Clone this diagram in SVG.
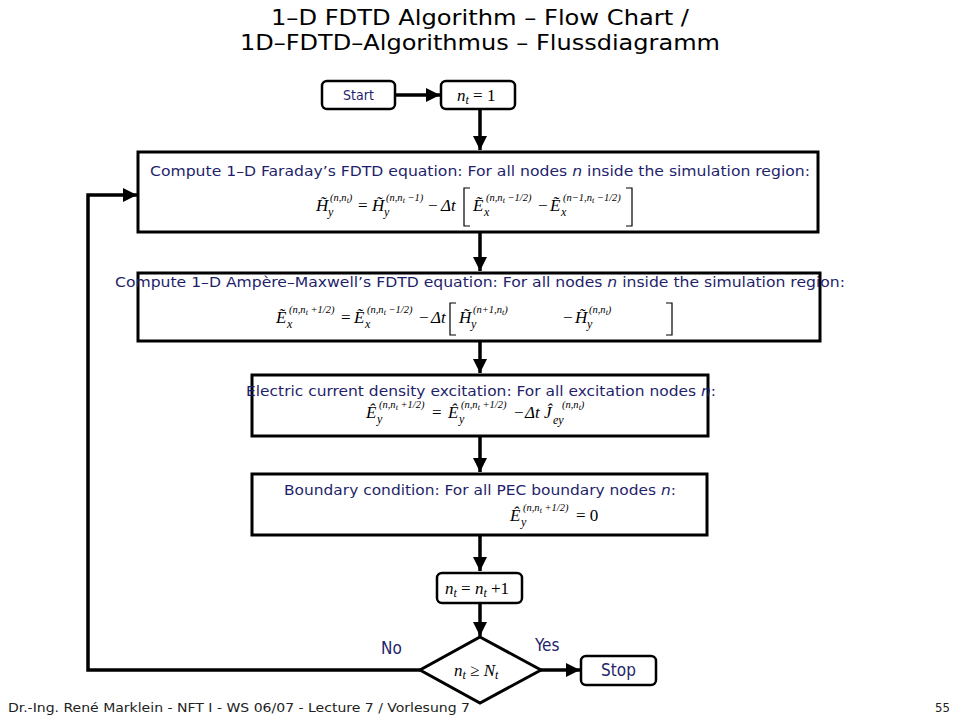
<svg xmlns="http://www.w3.org/2000/svg" width="960" height="720" viewBox="0 0 960 720">
<defs>
<marker id="ah" markerUnits="userSpaceOnUse" markerWidth="15" markerHeight="15" refX="14" refY="7" orient="auto">
<path d="M0,0 L14,7 L0,14 z" fill="#000"/>
</marker>
<style>
.title{font-family:"Liberation Sans Narrow","DejaVu Sans Condensed","Liberation Sans",sans-serif;font-size:22px;fill:#000;text-anchor:middle}
.lbl{font-family:"DejaVu Sans Condensed","DejaVu Sans",sans-serif;font-size:14px;fill:#1f1f6b}
.big{font-family:"DejaVu Sans Condensed","DejaVu Sans",sans-serif;font-size:17px;fill:#1f1f6b}
.foot{font-family:"DejaVu Sans Condensed","DejaVu Sans",sans-serif;font-size:13px;fill:#222}
.box{fill:#fff;stroke:#000;stroke-width:3}
.rbox{fill:#fff;stroke:#000;stroke-width:2.5}
.m{font-family:"Liberation Serif","DejaVu Serif",serif;font-style:italic;font-size:17px;fill:#000}
.mr{font-family:"Liberation Serif","DejaVu Serif",serif;font-size:17px;fill:#000}
.sp{font-family:"Liberation Serif","DejaVu Serif",serif;font-style:italic;font-size:10.5px;fill:#000}
.sb{font-family:"Liberation Serif","DejaVu Serif",serif;font-style:italic;font-size:12px;fill:#000}
.br{fill:none;stroke:#000;stroke-width:1.2}
.con{fill:none;stroke:#000;stroke-width:3.5}
</style>
</defs>

<g id="title">
<text class="title" x="480" y="25" textLength="418" lengthAdjust="spacingAndGlyphs">1–D FDTD Algorithm – Flow Chart /</text>
<text class="title" x="480" y="50" textLength="480" lengthAdjust="spacingAndGlyphs">1D–FDTD–Algorithmus – Flussdiagramm</text>
</g>

<g id="connectors">
<line class="con" x1="395" y1="95" x2="440" y2="95" marker-end="url(#ah)"/>
<line class="con" x1="480" y1="109" x2="480" y2="150" marker-end="url(#ah)"/>
<line class="con" x1="480" y1="233" x2="480" y2="271" marker-end="url(#ah)"/>
<line class="con" x1="480" y1="342" x2="480" y2="373" marker-end="url(#ah)"/>
<line class="con" x1="480" y1="437" x2="480" y2="472" marker-end="url(#ah)"/>
<line class="con" x1="480" y1="536" x2="480" y2="571" marker-end="url(#ah)"/>
<line class="con" x1="480" y1="604" x2="480" y2="636" marker-end="url(#ah)"/>
<line class="con" x1="541" y1="670" x2="580" y2="670" marker-end="url(#ah)"/>
<polyline class="con" points="420,670 88,670 88,195 137,195" marker-end="url(#ah)"/>
<text class="big" x="381" y="654">No</text>
<text class="big" x="535" y="651">Yes</text>
</g>

<g id="start">
<rect class="rbox" x="322" y="81" width="73" height="28" rx="5"/>
<text class="lbl" x="358.5" y="100" text-anchor="middle">Start</text>
</g>

<g id="init">
<rect class="rbox" x="441" y="81" width="74" height="28" rx="5"/>
<text class="m" x="457" y="101">n<tspan font-size="12" dy="3">t</tspan><tspan dy="-3" class="mr" font-style="normal"> = 1</tspan></text>
</g>

<g id="faraday">
<rect class="box" x="138" y="152" width="680" height="80"/>
<text class="lbl" x="480" y="176" text-anchor="middle" textLength="660" lengthAdjust="spacingAndGlyphs">Compute 1–D Faraday’s FDTD equation: For all nodes <tspan font-style="italic">n</tspan> inside the simulation region:</text>
<text class="m" x="316" y="211">H̃</text><text class="sb" x="328" y="216">y</text>
<text class="sp" x="330" y="201">(n,n<tspan font-size="8" dy="2">t</tspan><tspan dy="-2">)</tspan></text>
<text class="mr" x="358" y="211">=</text>
<text class="m" x="372" y="211">H̃</text><text class="sb" x="384" y="216">y</text>
<text class="sp" x="386" y="201">(n,n<tspan font-size="8" dy="2">t</tspan><tspan dy="-2"> −1)</tspan></text>
<text class="mr" x="428" y="211">−</text>
<text class="m" x="441" y="211">Δt</text>
<path class="br" d="M470,188 H464 V226 H470"/>
<text class="m" x="473" y="211">Ẽ</text><text class="sb" x="484" y="216">x</text>
<text class="sp" x="486" y="201">(n,n<tspan font-size="8" dy="2">t</tspan><tspan dy="-2"> −1/2)</tspan></text>
<text class="mr" x="538" y="211">−</text>
<text class="m" x="550" y="211">Ẽ</text><text class="sb" x="561" y="216">x</text>
<text class="sp" x="563" y="201">(n−1,n<tspan font-size="8" dy="2">t</tspan><tspan dy="-2"> −1/2)</tspan></text>
<path class="br" d="M626,188 H632 V226 H626"/>
</g>

<g id="ampere">
<rect class="box" x="138" y="273" width="682" height="68"/>
<text class="lbl" x="480" y="287" text-anchor="middle" textLength="730" lengthAdjust="spacingAndGlyphs">Compute 1–D Ampère–Maxwell’s FDTD equation: For all nodes <tspan font-style="italic">n</tspan> inside the simulation region:</text>
<text class="m" x="276" y="323">Ẽ</text><text class="sb" x="287" y="328">x</text>
<text class="sp" x="289" y="313">(n,n<tspan font-size="8" dy="2">t</tspan><tspan dy="-2"> +1/2)</tspan></text>
<text class="mr" x="341" y="323">=</text>
<text class="m" x="354" y="323">Ẽ</text><text class="sb" x="365" y="328">x</text>
<text class="sp" x="367" y="313">(n,n<tspan font-size="8" dy="2">t</tspan><tspan dy="-2"> −1/2)</tspan></text>
<text class="mr" x="419" y="323">−</text>
<text class="m" x="431" y="323">Δt</text>
<path class="br" d="M456,303 H450 V335 H456"/>
<text class="m" x="459" y="323">H̃</text><text class="sb" x="471" y="328">y</text>
<text class="sp" x="473" y="313">(n+1,n<tspan font-size="8" dy="2">t</tspan><tspan dy="-2">)</tspan></text>
<text class="mr" x="563" y="323">−</text>
<text class="m" x="575" y="323">H̃</text><text class="sb" x="587" y="328">y</text>
<text class="sp" x="589" y="313">(n,n<tspan font-size="8" dy="2">t</tspan><tspan dy="-2">)</tspan></text>
<path class="br" d="M666,303 H672 V335 H666"/>
</g>

<g id="excitation">
<rect class="box" x="252" y="375" width="456" height="61"/>
<text class="lbl" x="481" y="396" text-anchor="middle" textLength="470" lengthAdjust="spacingAndGlyphs">Electric current density excitation: For all excitation nodes <tspan font-style="italic">n</tspan>:</text>
<text class="m" x="366" y="418">Ê</text><text class="sb" x="377" y="423">y</text>
<text class="sp" x="379" y="408">(n,n<tspan font-size="8" dy="2">t</tspan><tspan dy="-2"> +1/2)</tspan></text>
<text class="mr" x="432" y="418">=</text>
<text class="m" x="448" y="418">Ê</text><text class="sb" x="459" y="423">y</text>
<text class="sp" x="461" y="408">(n,n<tspan font-size="8" dy="2">t</tspan><tspan dy="-2"> +1/2)</tspan></text>
<text class="mr" x="514" y="418">−</text>
<text class="m" x="525" y="418">Δt</text>
<text class="m" x="544" y="418">Ĵ</text><text class="sb" x="553" y="424">ey</text>
<text class="sp" x="562" y="408">(n,n<tspan font-size="8" dy="2">t</tspan><tspan dy="-2">)</tspan></text>
</g>

<g id="boundary">
<rect class="box" x="252" y="474" width="455" height="61"/>
<text class="lbl" x="480" y="495" text-anchor="middle" textLength="392" lengthAdjust="spacingAndGlyphs">Boundary condition: For all PEC boundary nodes <tspan font-style="italic">n</tspan>:</text>
<text class="m" x="510" y="521">Ê</text><text class="sb" x="521" y="526">y</text>
<text class="sp" x="523" y="511">(n,n<tspan font-size="8" dy="2">t</tspan><tspan dy="-2"> +1/2)</tspan></text>
<text class="mr" x="576" y="521">= 0</text>
</g>

<g id="increment">
<rect class="rbox" x="437" y="573" width="85" height="30" rx="5"/>
<text class="m" x="445" y="594">n<tspan font-size="12" dy="3">t</tspan><tspan dy="-3" class="mr" font-style="normal"> = </tspan>n<tspan font-size="12" dy="3">t</tspan><tspan dy="-3" class="mr" font-style="normal"> +1</tspan></text>
</g>

<g id="decision">
<polygon points="480,637 541,670 480,703 420,670" fill="#fff" stroke="#000" stroke-width="3"/>
<text class="m" x="454" y="676">n<tspan font-size="12" dy="3">t</tspan><tspan dy="-3" class="mr" font-style="normal"> ≥ </tspan>N<tspan font-size="12" dy="3">t</tspan></text>
</g>

<g id="stop">
<rect class="rbox" x="581" y="656" width="75" height="29" rx="5"/>
<text class="big" x="618.5" y="676" text-anchor="middle">Stop</text>
</g>

<g id="footer">
<text class="foot" x="8" y="712" textLength="462" lengthAdjust="spacingAndGlyphs">Dr.-Ing. René Marklein - NFT I - WS 06/07 - Lecture 7 / Vorlesung 7</text>
<text class="foot" x="950" y="712" text-anchor="end">55</text>
</g>
</svg>
